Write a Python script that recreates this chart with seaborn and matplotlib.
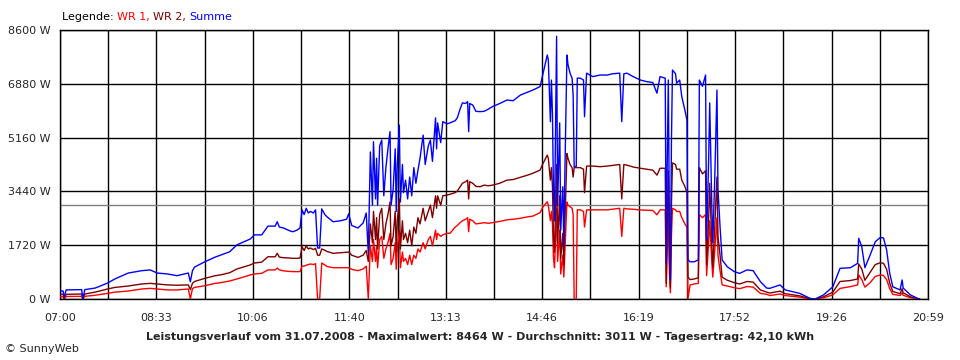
import pandas as pd
import numpy as np
import matplotlib.pyplot as plt
import seaborn as sns

# readings of the day (time, WR 1, WR 2, Summe) in W
times = ["07:00", "07:03", "07:04", "07:06", "07:21", "07:22", "07:24", "07:34", "07:46", "07:53",
         "08:06", "08:19", "08:27", "08:34", "08:44", "08:53", "09:04", "09:06", "09:08", "09:10",
         "09:20", "09:30", "09:35", "09:44", "09:51", "10:04", "10:08", "10:15", "10:21", "10:28",
         "10:30", "10:32", "10:36", "10:42", "10:45", "10:49", "10:52", "10:54", "10:56", "10:58",
         "11:00", "11:02", "11:05", "11:07", "11:09", "11:11", "11:13", "11:16", "11:18", "11:24",
         "11:31", "11:37", "11:39", "11:42", "11:48", "11:53", "11:56", "11:58", "12:00", "12:02",
         "12:03", "12:05", "12:06", "12:07", "12:09", "12:11", "12:13", "12:15", "12:17", "12:19",
         "12:20", "12:22", "12:24", "12:25", "12:26", "12:28", "12:29", "12:31", "12:32", "12:34",
         "12:36", "12:38", "12:40", "12:42", "12:44", "12:46", "12:48", "12:51", "12:53", "12:56",
         "12:58", "13:00", "13:03", "13:04", "13:05", "13:08", "13:10", "13:14", "13:17", "13:22",
         "13:24", "13:27", "13:29", "13:32", "13:34", "13:35", "13:36", "13:39", "13:42", "13:46",
         "13:50", "13:54", "13:58", "14:05", "14:12", "14:18", "14:25", "14:31", "14:37", "14:44",
         "14:47", "14:51", "14:52", "14:54", "14:55", "14:56", "14:57", "14:58", "15:00", "15:01",
         "15:03", "15:04", "15:06", "15:07", "15:08", "15:10", "15:11", "15:13", "15:15", "15:16",
         "15:17", "15:19", "15:20", "15:23", "15:26", "15:27", "15:29", "15:35", "15:42", "15:49",
         "15:54", "16:01", "16:03", "16:05", "16:08", "16:14", "16:21", "16:27", "16:33", "16:37",
         "16:40", "16:45", "16:46", "16:47", "16:48", "16:49", "16:50", "16:51", "16:52", "16:55",
         "16:56", "16:59", "17:01", "17:04", "17:06", "17:07", "17:09", "17:13", "17:17", "17:18",
         "17:21", "17:24", "17:25", "17:27", "17:28", "17:30", "17:31", "17:33", "17:35", "17:36",
         "17:38", "17:40", "17:45", "17:52", "17:57", "18:04", "18:10", "18:17", "18:23", "18:26",
         "18:36", "18:41", "18:55", "19:05", "19:10", "19:18", "19:27", "19:34", "19:44", "19:51",
         "19:52", "19:55", "19:58", "20:03", "20:08", "20:13", "20:16", "20:19", "20:22", "20:25",
         "20:32", "20:34", "20:35", "20:42", "20:49", "20:51"]

wr1 = [75, 75, 0, 80, 85, 0, 85, 120, 180, 220,
       255, 320, 340, 320, 290, 290, 320, 0, 330, 370,
       425, 500, 520, 575, 640, 770, 800, 820, 930, 930,
       990, 930, 900, 880, 875, 875, 875, 1055, 1050, 1080,
       1100, 1120, 1100, 1130, 0, 0, 1150, 1090, 1040, 1000,
       1000, 1000, 1000, 950, 905, 960, 1050, 0, 1700, 1200,
       1900, 1200, 1700, 1000, 1900, 2000, 1300, 1600, 1800, 2100,
       1100, 1300, 1800, 950, 1600, 2200, 1000, 1500, 1200, 1300,
       1100, 1400, 1100, 1400, 1300, 1600, 1500, 1800, 1600, 1900,
       2000, 1700, 2200, 1900, 2100, 2000, 2050, 2100, 2100, 2300,
       2350, 2450, 2500, 2550, 2600, 2150, 2550, 2500, 2400, 2420,
       2440, 2420, 2440, 2480, 2530, 2550, 2580, 2620, 2650, 2760,
       2950, 3110, 3000, 2500, 2800, 2400, 1300, 1000, 2900, 1200,
       2200, 800, 1400, 700, 1500, 3100, 3000, 2950, 2900, 2700,
       0, 0, 2850, 2850, 2800, 2300, 2850, 2850, 2850, 2850,
       2870, 2900, 2000, 2900, 2880, 2870, 2845, 2840, 2830, 2690,
       2850, 2850, 390, 1700, 2800, 900, 200, 2000, 2900, 2850,
       2800, 2800, 2600, 2400, 2300, 0, 450, 480, 500, 2700,
       2600, 2700, 750, 1800, 2500, 1200, 700, 1600, 2600, 1400,
       900, 450, 415, 360, 330, 400, 380, 180, 150, 110,
       160, 110, 60, 0, 0, 40, 130, 340, 395, 450,
       770, 620, 380, 520, 720, 770, 750, 620, 330, 150,
       110, 200, 120, 40, 0, 0]

wr2 = [150, 150, 0, 150, 160, 0, 160, 220, 320, 370,
       415, 480, 500, 480, 450, 440, 450, 300, 500, 560,
       660, 745, 770, 840, 960, 1090, 1150, 1180, 1350, 1350,
       1460, 1340, 1320, 1310, 1300, 1300, 1310, 1670, 1550, 1700,
       1600, 1630, 1580, 1620, 1400, 1400, 1600, 1560, 1520, 1460,
       1480, 1500, 1500, 1400, 1330, 1400, 1550, 1200, 2400, 1800,
       2800, 1900, 2600, 1600, 2700, 2900, 1900, 2400, 2700, 3100,
       1700, 2000, 2800, 1500, 2500, 3200, 1600, 2500, 1900, 2100,
       1800, 2200, 1700, 2300, 2100, 2600, 2400, 2900, 2500, 2800,
       3000, 2600, 3300, 2900, 3300, 3000, 3300, 3320, 3350, 3400,
       3450, 3600, 3700, 3750, 3800, 3200, 3750, 3700, 3600, 3590,
       3640, 3620, 3640, 3700, 3800, 3820, 3890, 3950, 4020, 4120,
       4340, 4600, 4500, 3800, 4200, 3600, 2000, 1500, 4300, 1800,
       3300, 1300, 2100, 1100, 2400, 4650, 4500, 4300, 4200, 3900,
       4200, 4200, 4200, 4200, 4150, 3400, 4250, 4250, 4230, 4250,
       4270, 4300, 3200, 4300, 4280, 4220, 4180, 4150, 4120, 3960,
       4180, 4180, 500, 2500, 4100, 1400, 350, 3000, 4350, 4300,
       4150, 4150, 3800, 3600, 3400, 700, 620, 640, 680, 4200,
       4000, 4100, 1100, 2600, 3700, 1800, 1000, 2400, 3900, 2000,
       1400, 700, 600, 520, 480, 560, 540, 290, 220, 190,
       250, 170, 100, 10, 0, 70, 220, 560, 590, 640,
       1120, 960, 600, 850, 1100, 1160, 1140, 950, 500, 240,
       170, 330, 200, 70, 10, 0]

summe = [256, 256, 60, 290, 300, 0, 300, 350, 510, 640,
         830, 905, 930, 830, 800, 745, 830, 550, 900, 1020,
         1190, 1340, 1400, 1510, 1730, 1920, 2050, 2050, 2330, 2330,
         2470, 2300, 2270, 2180, 2150, 2200, 2270, 2845, 2700, 2900,
         2750, 2800, 2750, 2850, 1630, 1630, 2880, 2700, 2630, 2470,
         2500, 2550, 2720, 2350, 2270, 2430, 2750, 1470, 4700, 3000,
         5030, 3200, 4500, 3000, 4900, 5080, 3300, 4200, 4800, 5350,
         3000, 3500, 4800, 2800, 4300, 5560, 3100, 4300, 3400, 3800,
         3200, 3900, 3300, 4200, 3700, 4120, 4500, 5240, 4300, 4900,
         5080, 4400, 5790, 4800, 5630, 5000, 5670, 5600, 5630, 5700,
         5790, 6100, 6270, 6250, 6310, 5350, 6250, 6200, 6000, 5990,
         6000, 6070, 6150, 6250, 6360, 6340, 6520, 6600, 6680, 6790,
         7220, 7800, 7640, 5670, 7000, 5900, 3400, 2500, 8400, 3000,
         5630, 2200, 3590, 1700, 4000, 7800, 7500, 7220, 7060, 6500,
         4230, 4230, 7060, 7060, 7000, 5830, 7220, 7110, 7160, 7160,
         7200, 7220, 5670, 7200, 7220, 7110, 7000, 6950, 6920, 6580,
         7110, 7060, 1140, 4500, 7000, 2500, 610, 5000, 7320, 7200,
         6900, 7000, 6470, 6040, 5720, 1250, 1190, 1190, 1250, 7000,
         6800, 7160, 1890, 4500, 6270, 3000, 1800, 4000, 6680, 3500,
         2310, 1250, 1030, 870, 820, 930, 905, 555, 350, 340,
         450, 290, 180, 20, 0, 130, 390, 980, 1000, 1140,
         1940, 1670, 1000, 1400, 1830, 1970, 1950, 1570, 820, 390,
         290, 610, 350, 130, 20, 0]

y_ticks = [0, 1720, 3440, 5160, 6880, 8600]
x_labels = ["07:00", "08:33", "10:06", "11:40", "13:13", "14:46", "16:19", "17:52", "19:26", "20:59"]
average = 3011

# minutes since 07:00
minutes = [int(t[:2]) * 60 + int(t[3:]) - 420 for t in times]
df = pd.DataFrame({"min": minutes * 3,
                   "W": wr1 + wr2 + summe,
                   "serie": ["WR 1"] * len(wr1) + ["WR 2"] * len(wr2) + ["Summe"] * len(summe)})

sns.set_style("white")
plt.rcParams["font.family"] = ["DejaVu Sans"]

fig = plt.figure(figsize=(9.6, 3.6), dpi=100)
ax = fig.add_axes([60 / 960, 1 - 299 / 360, 868 / 960, 269 / 360])

pal = {"WR 1": "#ff0000", "WR 2": "#800000", "Summe": "#0000ff"}
sns.lineplot(data=df, x="min", y="W", hue="serie", hue_order=["WR 1", "WR 2", "Summe"],
             palette=pal, linewidth=1.0, legend=False, ax=ax, zorder=3)

total = 839
ax.set_xlim(0, total)
ax.set_ylim(0, 8600)

# grid
grid_x = np.linspace(0, total, 19)
for gx in grid_x:
    ax.axvline(gx, color="black", lw=1.0, zorder=1)
for gy in y_ticks:
    ax.axhline(gy, color="black", lw=1.0, zorder=1)
ax.axhline(average, color="#808080", lw=1.0, zorder=2)

tick_text = []
for i in range(19):
    tick_text.append(x_labels[i // 2] if i % 2 == 0 else "")
ax.set_xticks(grid_x)
ax.set_xticklabels(tick_text)
ax.set_yticks(y_ticks)
ax.set_yticklabels([f"{v} W" for v in y_ticks])
ax.tick_params(axis="both", direction="out", length=4, width=1, color="black",
               labelsize=8, pad=3)
ax.tick_params(axis="x", pad=6)
ax.set_xlabel("")
ax.set_ylabel("")
for s in ax.spines.values():
    s.set_color("black")
    s.set_linewidth(1.0)

# legend line at the top
parts = [("Legende: ", "black"), ("WR 1, ", "#ff0000"), ("WR 2, ", "#800000"), ("Summe", "#0000ff")]
x0 = 62 / 960
for txt, col in parts:
    t = fig.text(x0, 1 - 17 / 360, txt, color=col, fontsize=8, va="center", ha="left")
    fig.canvas.draw()
    bb = t.get_window_extent()
    x0 += bb.width / 960

fig.text(480 / 960, 1 - 337 / 360,
         "Leistungsverlauf vom 31.07.2008 - Maximalwert: 8464 W - Durchschnitt: 3011 W - Tagesertrag: 42,10 kWh",
         ha="center", va="center", fontsize=8, fontweight="bold")
fig.text(5 / 960, 1 - 349 / 360, "© SunnyWeb", ha="left", va="center", fontsize=8)

fig.savefig("out.png", dpi=100, facecolor="white")
